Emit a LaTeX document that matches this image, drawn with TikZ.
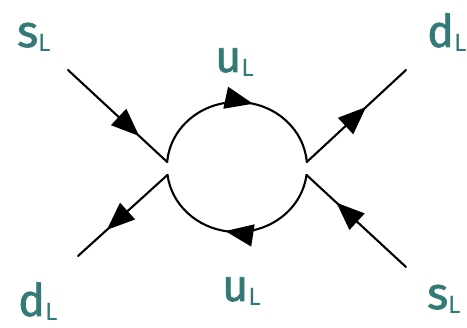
\documentclass[tikz,border=0pt]{standalone}
\usepackage{fontspec}
\setmainfont{Fira Sans}
\newfontfamily\lblfont{Fira Sans}[FakeBold=1.5]
\newfontfamily\subfont{Fira Sans}
\usetikzlibrary{arrows.meta,decorations.markings}
\definecolor{teal1}{RGB}{51,122,118}
\tikzset{
  prop/.style={line width=2.1pt, line cap=round},
  arr/.style={postaction={decorate, decoration={markings,
     mark=at position #1 with {\arrow{Triangle[length=28pt,width=22pt]}}}}},
  lbl/.style={text=teal1, anchor=base west, inner sep=0pt, font=\lblfont\fontsize{45}{45}\selectfont}
}
\newcommand{\subL}{\raisebox{-5pt}{\subfont\fontsize{25}{25}\selectfont L}}
\begin{document}
\begin{tikzpicture}[x=1pt,y=1pt]
\useasboundingbox (0,0) rectangle (467,328);
\coordinate (O) at (237,161);
\coordinate (A) at (68,258);
\coordinate (V1) at ([shift={(175.6:70pt and 65pt)}]O);
\coordinate (B) at (78,72);
\coordinate (V2) at ([shift={(187:70pt and 65pt)}]O);
\coordinate (C) at (406,258);
\coordinate (V3) at ([shift={(4.4:70pt and 65pt)}]O);
\coordinate (D) at (406,61);
\coordinate (V4) at ([shift={(-7:70pt and 65pt)}]O);
% external legs
\draw[prop, arr=0.72] (A) -- (V1);
\draw[prop, arr=0.68] (V2) -- (B);
\draw[prop, arr=0.60] (V3) -- (C);
\draw[prop, arr=0.70] (D) -- (V4);
% loop
\draw[prop, arr=0.58] (V1) arc[start angle=175.6, end angle=4.4, x radius=70pt, y radius=65pt];
\draw[prop, arr=0.56] (V4) arc[start angle=-7, end angle=-173, x radius=70pt, y radius=65pt];
% labels
\node[lbl] (l1) at (17,281) {s\subL};
\node[lbl] (l2) at (215,256) {u\subL};
\node[lbl] (l3) at (427,281) {d\subL};
\node[lbl] (l4) at (18,12) {d\subL};
\node[lbl] (l5) at (222,27) {u\subL};
\node[lbl] (l6) at (427,19) {s\subL};
\end{tikzpicture}
\end{document}
